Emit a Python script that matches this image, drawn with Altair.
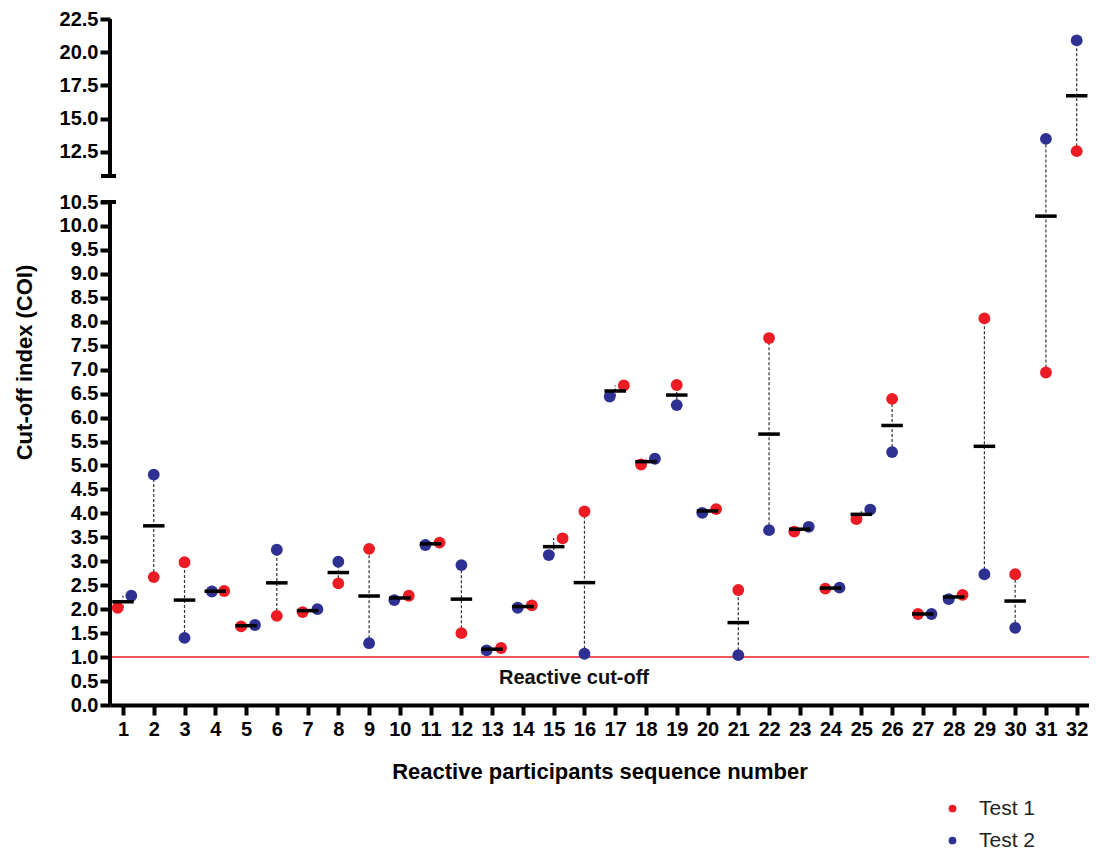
import altair as alt
import pandas as pd

# ---------------- data ----------------
participants = list(range(1, 33))
test1 = [2.03, 2.67, 2.98, 2.38, 1.64, 1.86, 1.94, 2.54, 3.26, 2.28,
         3.39, 1.50, 1.19, 2.08, 3.48, 4.04, 6.67, 5.02, 6.68, 4.09,
         2.40, 7.66, 3.62, 2.43, 3.88, 6.39, 1.90, 2.30, 8.07, 2.73,
         6.94, 12.55]
test2 = [2.28, 4.81, 1.40, 2.37, 1.67, 3.24, 2.00, 2.99, 1.29, 2.19,
         3.34, 2.92, 1.14, 2.03, 3.13, 1.07, 6.44, 5.14, 6.26, 4.01,
         1.04, 3.65, 3.72, 2.45, 4.08, 5.28, 1.90, 2.21, 2.73, 1.61,
         13.47, 20.89]
# horizontal jitter of the scatter points (in participant units)
jitter1 = [-0.17, 0, 0, 0.29, -0.16, 0, -0.16, 0, 0, 0.29,
           0.29, 0, 0.29, 0.29, 0.29, 0, 0.28, -0.16, 0, 0.28,
           0, 0, -0.18, -0.17, -0.16, 0, -0.16, 0.29, 0, 0,
           0, 0]
jitter2 = [0.27, 0, 0, -0.11, 0.29, 0, 0.32, 0, 0, -0.18,
           -0.17, 0, -0.18, -0.17, -0.16, 0, -0.18, 0.29, 0, -0.17,
           0, 0, 0.29, 0.29, 0.29, 0, 0.28, -0.16, 0, 0,
           0, 0]
series_names = ["Test 1", "Test 2"]
series_colors = ["#EC1C24", "#2E3192"]

y_ticks = [0.0, 0.5, 1.0, 1.5, 2.0, 2.5, 3.0, 3.5, 4.0, 4.5, 5.0, 5.5,
           6.0, 6.5, 7.0, 7.5, 8.0, 8.5, 9.0, 9.5, 10.0, 10.5,
           12.5, 15.0, 17.5, 20.0, 22.5]
axis_break_low = 10.5
axis_break_high = 10.68
y_max = 22.5
cutoff_value = [1.0]
cutoff_label = ["Reactive cut-off"]
cutoff_label_x = [15.66]
cutoff_label_y = [0.56]

# ---------------- tables ----------------
wide = pd.DataFrame({"id": participants, "t1": test1, "t2": test2})
long = pd.concat([
    pd.DataFrame({"id": participants, "value": test1, "jit": jitter1, "test": series_names[0]}),
    pd.DataFrame({"id": participants, "value": test2, "jit": jitter2, "test": series_names[1]}),
], ignore_index=True)
segments = pd.DataFrame({"lo": [0.0, axis_break_high], "hi": [axis_break_low, y_max]})
caps = pd.DataFrame({"cap": [axis_break_low, axis_break_high]})
cutoff = pd.DataFrame({"y": cutoff_value})
label_df = pd.DataFrame({"x": cutoff_label_x, "y": cutoff_label_y, "t": cutoff_label})

W, H = 979, 686
FONT = "Liberation Sans"

yscale = alt.Scale(domain=[0, axis_break_low, axis_break_high, y_max],
                   range=[H, 183, 157, 0], zero=False, nice=False)
xscale = alt.Scale(domain=[0.578, 32.4], zero=False, nice=False)

yaxis = alt.Axis(values=y_ticks, format=".1f", grid=False, domain=False,
                 labelFontSize=20, labelFontWeight="bold", labelColor="black",
                 labelPadding=2, tickSize=10, tickWidth=4, tickColor="black",
                 title="Cut-off index (COI)", titleFontSize=22, titleFontWeight="bold",
                 titleColor="black", titlePadding=23)
xaxis = alt.Axis(values=participants, format="d", grid=False,
                 labelFontSize=20, labelFontWeight="bold", labelColor="black",
                 labelPadding=4, labelFlush=False, labelOverlap=False,
                 tickSize=10, tickWidth=4, tickColor="black",
                 domainWidth=4, domainColor="black",
                 title="Reactive participants sequence number", titleFontSize=22,
                 titleFontWeight="bold", titleColor="black", titlePadding=22)

def Y(field):
    return alt.Y(field, type="quantitative", scale=yscale, axis=yaxis)

def X(field):
    return alt.X(field, type="quantitative", scale=xscale, axis=xaxis)

cut_line = alt.Chart(cutoff).mark_rule(color="#EC1C24", strokeWidth=1.5).encode(y=Y("y"))

range_lines = alt.Chart(wide).transform_calculate(
    lo="min(datum.t1, datum.t2)", hi="max(datum.t1, datum.t2)"
).mark_rule(color="#333333", strokeWidth=1.2, strokeDash=[3, 2]).encode(
    x=X("id"), y=Y("lo"), y2="hi:Q")

points = alt.Chart(long).transform_calculate(
    xp="datum.id + datum.jit"
).mark_circle(size=140, opacity=1).encode(
    x=X("xp"), y=Y("value"),
    color=alt.Color("test:N",
                    scale=alt.Scale(domain=series_names, range=series_colors),
                    legend=alt.Legend(title=None, orient="none", legendX=832, legendY=779,
                                      labelFontSize=21, labelFont=FONT, labelColor="#222222",
                                      symbolSize=60, symbolType="circle", symbolStrokeWidth=0,
                                      labelOffset=16, rowPadding=10, padding=0)))

means = alt.Chart(wide).transform_calculate(
    m="(datum.t1 + datum.t2) / 2", x0="datum.id - 0.35", x1="datum.id + 0.35"
).mark_rule(color="black", strokeWidth=3.5).encode(x=X("x0"), x2="x1:Q", y=Y("m"))

axis_segments = alt.Chart(segments).mark_rule(color="black", strokeWidth=4).encode(
    x=alt.value(0), y=Y("lo"), y2="hi:Q")

axis_caps = alt.Chart(caps).mark_rule(color="black", strokeWidth=4).encode(
    x=alt.value(-9), x2=alt.value(6), y=Y("cap"))

label = alt.Chart(label_df).mark_text(fontSize=20, fontWeight="bold", color="#111111",
                                      baseline="middle", align="center").encode(
    x=X("x"), y=Y("y"), text="t:N")

chart = alt.layer(cut_line, range_lines, points, means, axis_segments, axis_caps, label).properties(
    width=W, height=H,
    padding={"left": 102, "top": 11, "right": 0, "bottom": 146},
    autosize=alt.AutoSizeParams(type="none"),
).configure(font=FONT).configure_view(stroke=None)

chart.save("out.html", embed_options={"renderer": "svg", "actions": False})
